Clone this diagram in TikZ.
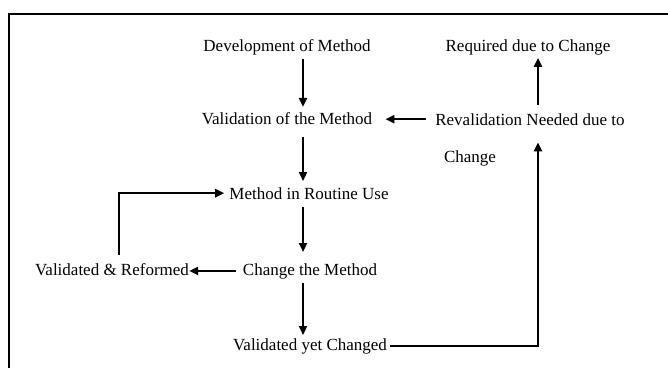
\documentclass[tikz,border=0pt]{standalone}
\usepackage{fontspec}
\setmainfont{Liberation Serif}
\usetikzlibrary{arrows.meta}
\tikzset{
  lbl/.style={inner sep=0pt, anchor=base, font=\fontsize{17}{20}\selectfont},
  arr/.style={line width=2.2pt, -{Triangle[length=9pt,width=8pt]}},
  frame/.style={line width=1.8pt}
}
\begin{document}
\begin{tikzpicture}[x=1pt,y=-1pt]
\useasboundingbox (0,0) rectangle (668,367);
\draw[frame] (9,368) -- (9,14) -- (669,14);

\coordinate (colA) at (303,0);
\coordinate (colB) at (538,0);
\coordinate (colL) at (119,0);

\node[lbl] (dev) at (287,51) {Development of Method};
\node[lbl] (req) at (528,51) {Required due to Change};
\node[lbl] (val) at (287,124) {Validation of the Method};
\node[lbl] (rev) at (530,125) {Revalidation Needed due to};
\node[lbl] (chg) at (470,162) {Change};
\node[lbl] (rou) at (309,199) {Method in Routine Use};
\node[lbl] (cm)  at (310,275) {Change the Method};
\node[lbl] (vr)  at (112,275) {Validated \& Reformed};
\node[lbl] (vyc) at (310,350) {Validated yet Changed};

\draw[arr, shorten <=4pt, shorten >=5pt] (dev.south -| colA) -- (val.north -| colA);
\draw[arr, shorten <=9pt, shorten >=13pt] (rev.west) -- (rev.west -| val.east);
\draw[arr, shorten <=8pt, shorten >=3pt] (rev.north -| colB) -- (req.south -| colB);
\draw[arr, shorten <=3pt, shorten >=17pt] (vyc.east) -- (vyc.east -| colB) -- (rev.south -| colB);
\draw[arr, shorten <=13pt, shorten >=6pt] (val.south -| colA) -- (rou.north -| colA);
\draw[arr, shorten <=8pt, shorten >=11pt] (rou.south -| colA) -- (cm.north -| colA);
\draw[arr, shorten <=7pt] (cm.west) -- (cm.west -| vr.east);
\draw[arr, shorten <=4pt, shorten >=3pt] (cm.south -| colA) -- (vyc.north -| colA);
\draw[arr, shorten <=8pt, shorten >=5pt] (vr.north -| colL) -- (colL |- rou.west) -- (rou.west);
\end{tikzpicture}
\end{document}
